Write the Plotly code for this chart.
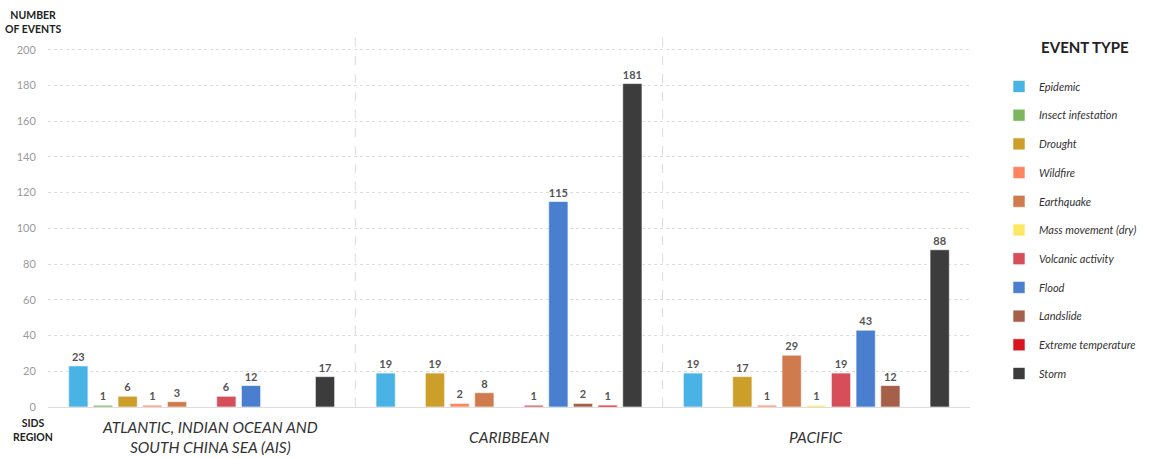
import plotly.graph_objects as go

regions = ["ATLANTIC, INDIAN OCEAN AND<br>SOUTH CHINA SEA (AIS)", "CARIBBEAN", "PACIFIC"]
event_types = ["Epidemic", "Insect infestation", "Drought", "Wildfire", "Earthquake",
               "Mass movement (dry)", "Volcanic activity", "Flood", "Landslide",
               "Extreme temperature", "Storm"]
colors = ["#4AB3E6", "#7DB65E", "#CC9E2A", "#FF8560", "#D07B4E", "#FFE766",
          "#D64E5A", "#4A7FD0", "#A65F48", "#D9141E", "#3C3C3C"]

epidemic = [23, 19, 19]
insect = [1, None, None]
drought = [6, 19, 17]
wildfire = [1, 2, 1]
earthquake = [3, 8, 29]
mass_movement = [None, None, 1]
volcanic = [6, 1, 19]
flood = [12, 115, 43]
landslide = [None, 2, 12]
extreme_temp = [None, 1, None]
storm = [17, 181, 88]

series = [epidemic, insect, drought, wildfire, earthquake, mass_movement,
          volcanic, flood, landslide, extreme_temp, storm]

y_ticks = list(range(0, 201, 20))

FONT = "Lato"

fig = go.Figure()
for name, vals, col in zip(event_types, series, colors):
    fig.add_trace(go.Bar(
        x=regions, y=vals, name=name, legendgroup=name,
        marker=dict(color=col, line=dict(color="rgba(255,255,255,0.6)", width=1)),
        text=[("" if v is None else str(v)) for v in vals],
        textposition="outside", cliponaxis=False, constraintext="none",
        textfont=dict(family=FONT, size=11, color="#555555", weight="bold"),
        hovertemplate="%{x}<br>" + name + ": %{y}<extra></extra>",
    ))

fig.update_layout(
    width=1151, height=458,
    margin=dict(l=48, r=181, t=30, b=51),
    paper_bgcolor="white", plot_bgcolor="white",
    barmode="group", bargap=0.117, bargroupgap=0.22,
    font=dict(family=FONT, color="#333333"),
    showlegend=True,
    legend=dict(
        title=dict(text="&nbsp;" * 11 + "EVENT TYPE<br> ",
                   font=dict(family=FONT, size=15, color="#222222", weight="bold", style="normal")),
        font=dict(family=FONT, size=11, color="#333333", style="italic"),
        xref="container", yref="container",
        x=999 / 1151, y=1 - 33 / 458, xanchor="left", yanchor="top",
        tracegroupgap=9.7, bgcolor="rgba(0,0,0,0)", maxheight=440,
    ),
    xaxis=dict(
        showticklabels=False, showgrid=False, zeroline=False, showline=False,
        ticks="",
    ),
    yaxis=dict(
        range=[0, 211], tickvals=y_ticks, showgrid=True,
        gridcolor="#DDDDDD", griddash="dot", gridwidth=1,
        zeroline=True, zerolinecolor="#DDDDDD", zerolinewidth=1,
        tickfont=dict(family=FONT, size=11, color="#9A9A9A"),
        ticks="outside", ticklen=9, tickcolor="rgba(0,0,0,0)",
        showline=False,
    ),
)

# group separators
for i in range(len(regions) - 1):
    fig.add_shape(type="line", xref="x", yref="paper", x0=i + 0.5, x1=i + 0.5, y0=0, y1=1,
                  line=dict(color="#DDDDDD", width=1, dash="dash"), layer="below")

# region labels
for i, r in enumerate(regions):
    fig.add_annotation(x=r, xref="x", y=-30 / 377, yref="paper", text="<i>" + r + "</i>",
                       showarrow=False, yanchor="middle", xshift=8 if i == 0 else 0,
                       font=dict(family=FONT, size=15.5, color="#333333"))

fig.add_annotation(xref="paper", yref="paper", x=-15 / 922, y=(407 - 22) / 377, text="<b>NUMBER<br>OF EVENTS</b>",
                   showarrow=False, xanchor="center", yanchor="middle", align="center",
                   font=dict(family=FONT, size=10.5, color="#222222"))
fig.add_annotation(xref="paper", yref="paper", x=-15 / 922, y=-8 / 377, text="<b>SIDS<br>REGION</b>",
                   showarrow=False, xanchor="center", yanchor="top", align="center",
                   font=dict(family=FONT, size=10.5, color="#222222"))

fig.write_html("out.html")
